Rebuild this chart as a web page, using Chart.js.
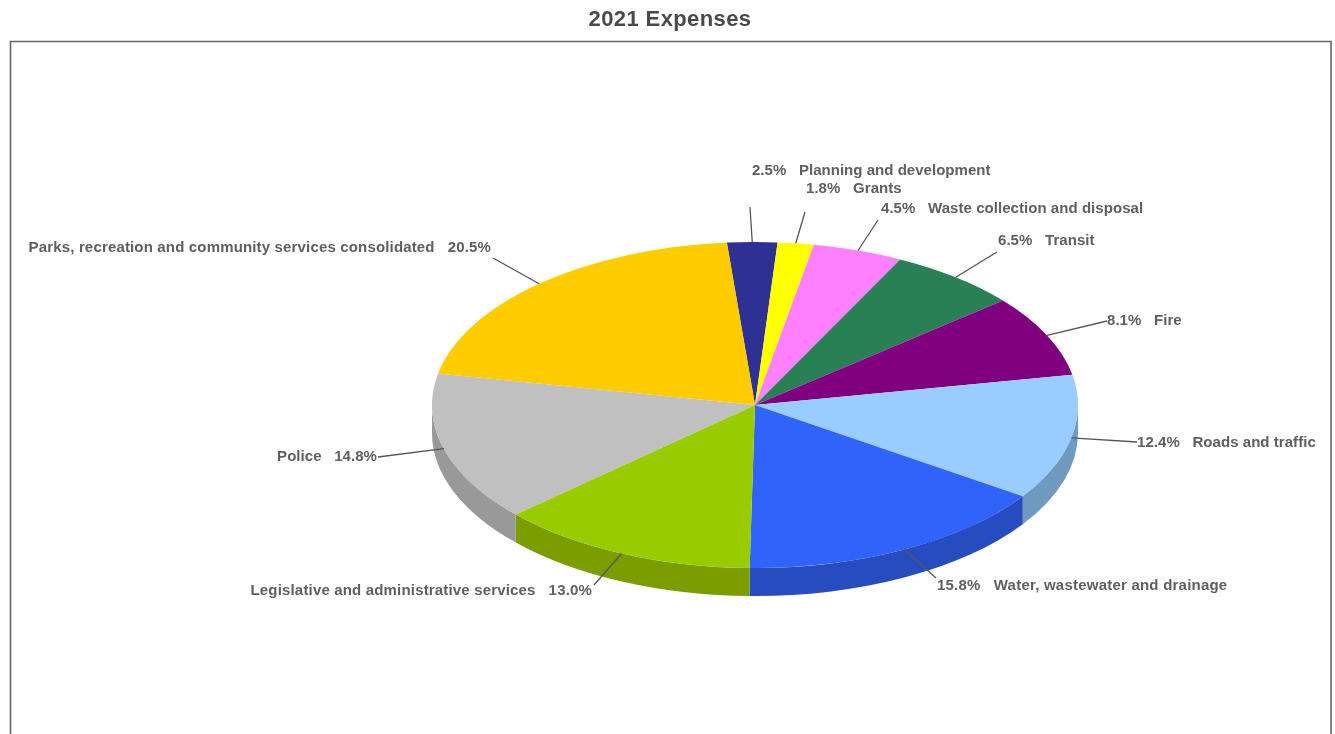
<!DOCTYPE html>
<html>
<head>
<meta charset="utf-8">
<script src="https://cdn.jsdelivr.net/npm/chart.js@4"></script>
<style>html,body{margin:0;padding:0;background:#fff}canvas{display:block}</style>
</head>
<body>
<canvas id="c" width="1335" height="734"></canvas>
<script>
const categories = ["Planning and development","Grants","Waste collection and disposal","Transit","Fire","Roads and traffic","Water, wastewater and drainage","Legislative and administrative services","Police","Parks, recreation and community services consolidated"];
const values = [2.5,1.8,4.5,6.5,8.1,12.4,15.8,13.0,14.8,20.5];
const topColors = ["#2E3192","#FFFF00","#FF80FF","#2A8055","#800080","#99CCFF","#2F63FA","#99CC00","#C0C0C0","#FFCC00"];
const sideColors = ["#232670","#C8C800","#C864C8","#206040","#600060","#7099C0","#264CC0","#7A9E00","#999999","#C89F00"];
const titleText = "2021 Expenses";

// Annotation layout: [text x, text y, align, leader end x, leader end y, letter spacing]
const labelLayout = [
  [752,171,"left",750,207,0.03],
  [806,189,"left",805,212,0.05],
  [881,209,"left",878,220,0.05],
  [998,241,"left",997,252,0.05],
  [1107,321,"left",1107,321,0.05],
  [1137,443,"left",1137,442,0.05],
  [937,586,"left",936,578,0.22],
  [592,591,"right",594,585,0.17],
  [377,457,"right",378,457,0.05],
  [491,248,"right",493,258,0.16]
];
const labelOrderPctFirst = [true,true,true,true,true,true,true,false,false,false];
const SQUASH = 163/323, DEPTH = 28;

const pie3d = {
  id:'pie3d',
  beforeDraw(chart){
    const ctx = chart.ctx;
    ctx.save();
    ctx.fillStyle='#fff';ctx.fillRect(0,0,chart.width,chart.height);
    ctx.strokeStyle='#666';ctx.lineWidth=1.6;
    ctx.beginPath();ctx.moveTo(10.5,734);ctx.lineTo(10.5,41.5);ctx.lineTo(1331,41.5);ctx.lineTo(1331,734);ctx.stroke();
    ctx.font='bold 22px "Liberation Sans", Arial, sans-serif';
    ctx.letterSpacing='0.4px';
    ctx.fillStyle='#4a4a4a';ctx.textAlign='center';ctx.textBaseline='middle';
    ctx.fillText(titleText,670,20);
    ctx.restore();
  },
  beforeDatasetsDraw(chart){
    const ctx = chart.ctx, arcs = chart.getDatasetMeta(0).data;
    ctx.save();
    arcs.forEach((a,i)=>{
      const TAU=Math.PI*2;
      let s=a.startAngle, e=a.endAngle;
      while(e>TAU){s-=TAU;e-=TAU;}
      const a0=Math.max(s,0), a1=Math.min(e,Math.PI);
      if(a1<=a0) return;
      const rx=a.outerRadius, ry=rx*SQUASH;
      ctx.fillStyle=sideColors[i];
      ctx.beginPath();
      ctx.ellipse(a.x,a.y,rx,ry,0,a0,a1);
      ctx.ellipse(a.x,a.y+DEPTH,rx,ry,0,a1,a0,true);
      ctx.closePath();
      ctx.fill();
    });
    ctx.restore();
    const cy = arcs[0].y;
    ctx.save();
    ctx.translate(0,cy);ctx.scale(1,SQUASH);ctx.translate(0,-cy);
  },
  afterDatasetsDraw(chart){
    const ctx = chart.ctx, arcs = chart.getDatasetMeta(0).data;
    ctx.restore();
    ctx.save();
    arcs.forEach((a,i)=>{
      const mid=(a.startAngle+a.endAngle)/2, L=labelLayout[i];
      const px=a.x+Math.cos(mid)*a.outerRadius, py=a.y+Math.sin(mid)*a.outerRadius*SQUASH;
      ctx.strokeStyle='#555';ctx.lineWidth=1.3;
      ctx.beginPath();ctx.moveTo(px,py);ctx.lineTo(L[3],L[4]);ctx.stroke();
      const pct=values[i].toFixed(1)+'%';
      const txt=labelOrderPctFirst[i]?pct+'   '+categories[i]:categories[i]+'   '+pct;
      ctx.font='bold 15px "Liberation Sans", Arial, sans-serif';
      ctx.letterSpacing=L[5]+'px';
      ctx.fillStyle='#5f5f5f';
      ctx.textAlign=L[2];ctx.textBaseline='middle';
      ctx.fillText(txt,L[0],L[1]);
    });
    ctx.restore();
  }
};

new Chart(document.getElementById('c'),{
  type:'pie',
  data:{labels:categories,datasets:[{data:values,backgroundColor:topColors,borderWidth:0}]},
  plugins:[pie3d],
  options:{
    responsive:false,animation:false,
    rotation:-5,radius:323,
    layout:{padding:{left:175,right:0,top:76,bottom:0}},
    plugins:{legend:{display:false},tooltip:{enabled:false},title:{display:false}}
  }
});
</script>
</body>
</html>
